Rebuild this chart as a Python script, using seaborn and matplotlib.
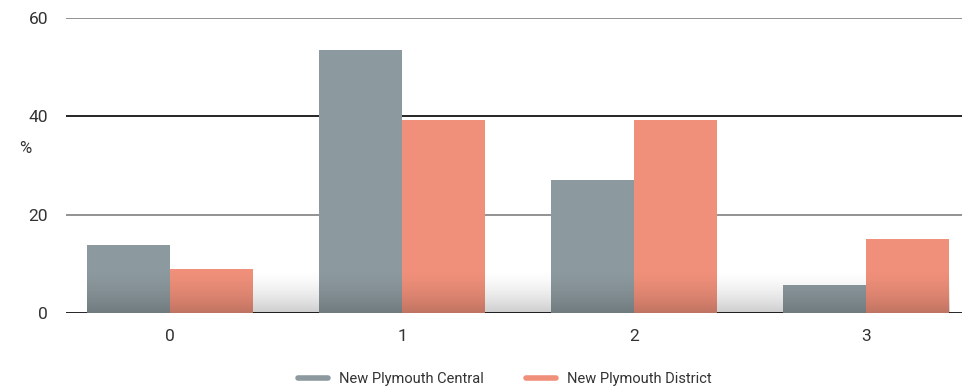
import numpy as np
import pandas as pd
import matplotlib
matplotlib.use("Agg")
import matplotlib.pyplot as plt
from matplotlib.lines import Line2D
import seaborn as sns

# Share of households by count (percent)
categories = ["0", "1", "2", "3"]
central = [13.8, 53.4, 27.0, 5.7]
district = [8.9, 39.3, 39.3, 15.1]
series_names = ["New Plymouth Central", "New Plymouth District"]
colors = ["#8c999e", "#f0907a"]
yticks = [0, 20, 40, 60]

df = pd.DataFrame({
    "category": categories * 2,
    "value": central + district,
    "series": [series_names[0]] * len(categories) + [series_names[1]] * len(categories),
})

sns.set_theme(style="white")
plt.rcParams["font.family"] = ["Roboto", "DejaVu Sans"]

fig = plt.figure(figsize=(9.69, 3.89), dpi=100)
ax = fig.add_axes([66 / 969, (389 - 313.3) / 389, (962 - 66) / 969, (313.3 - 17.7) / 389])

sns.barplot(data=df, x="category", y="value", hue="series", order=categories,
            hue_order=series_names, palette=colors, width=0.716, gap=0,
            saturation=1, linewidth=0, legend=False, ax=ax, zorder=2)

# horizontal rules: alternating grey and black
for v in yticks:
    ax.axhline(v, color="#000000" if v in (0, 40) else "#808080", lw=1.2, zorder=1)

# soft floor shadow across the bar span, darkest at the baseline
xs = [p.get_x() for p in ax.patches] + [p.get_x() + p.get_width() for p in ax.patches]
h = 200
t = np.linspace(0, 1, h) ** 1.6
grad = np.zeros((h, 2, 4))
grad[..., 3] = (0.2 * t)[:, None]
ax.imshow(grad, extent=(min(xs), max(xs), 0, 9.0), aspect="auto", zorder=3,
          interpolation="bilinear", origin="upper")
ax.set_xlim(-0.448, 3.414)
ax.set_ylim(0, 60)

for s in ax.spines.values():
    s.set_visible(False)
ax.set_yticks(yticks)
ax.set_yticklabels([str(v) for v in yticks])
ax.tick_params(axis="both", length=0, labelsize=12.5, colors="#333333")
ax.tick_params(axis="y", pad=13)
ax.tick_params(axis="x", pad=11)
ax.set_xlabel("")
ax.set_ylabel("%", rotation=0, fontsize=12, color="#333333", va="center", ha="center")
ax.yaxis.set_label_coords(-0.046, 0.559)

handles = [Line2D([0], [0], color=c, lw=4) for c in colors]
fig.legend(handles, series_names, loc="center", bbox_to_anchor=(0.521, 1 - 379 / 389),
           ncol=2, frameon=False, fontsize=10.5, handlelength=2.05, columnspacing=2.9,
           handletextpad=0.75, labelcolor="#333333")

fig.savefig("out.png", dpi=100)
